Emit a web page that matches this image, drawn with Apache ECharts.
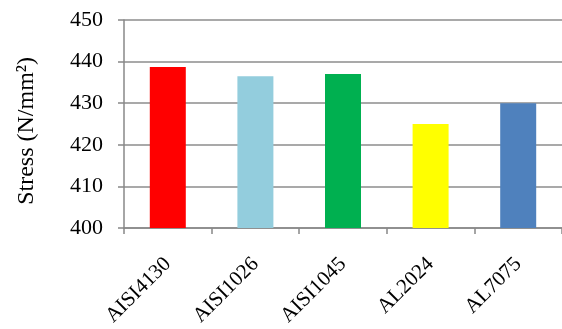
<!DOCTYPE html>
<html>
<head>
<meta charset="utf-8">
<script src="https://cdn.jsdelivr.net/npm/echarts@6/dist/echarts.min.js"></script>
<style>
  html, body { margin: 0; padding: 0; background: #fff; }
  #chart { width: 562px; height: 329px; }
</style>
</head>
<body>
<div id="chart"></div>
<script>
// materials and stress values
var materials = ['AISI4130', 'AISI1026', 'AISI1045', 'AL2024', 'AL7075'];
var stress = [438.7, 436.5, 437.0, 425.0, 430.0];
var barColors = ['#ff0000', '#93cddd', '#00b050', '#ffff00', '#4f81bd'];

var chart = echarts.init(document.getElementById('chart'));
var font = '"Liberation Serif", "Times New Roman", serif';

chart.setOption({
  animation: false,
  grid: { left: 124, right: -4, top: 20, bottom: 101 },
  xAxis: {
    type: 'category',
    data: materials,
    axisLine: { lineStyle: { color: '#888', width: 1.5 } },
    axisTick: { show: true, length: 6, lineStyle: { color: '#888', width: 1.5 } },
    axisLabel: {
      rotate: 45,
      margin: 33,
      color: '#000',
      fontFamily: font,
      fontSize: 21
    }
  },
  yAxis: {
    type: 'value',
    min: 400,
    max: 450,
    interval: 10,
    name: 'Stress (N/mm²)',
    nameLocation: 'middle',
    nameRotate: 90,
    nameGap: 85,
    nameTextStyle: { color: '#000', fontFamily: font, fontSize: 24, padding: [0, 14, 0, 0] },
    axisLine: { show: true, lineStyle: { color: '#888', width: 1.5 } },
    axisTick: { show: true, length: 6, lineStyle: { color: '#888', width: 1.5 } },
    axisLabel: { margin: 21, color: '#000', fontFamily: font, fontSize: 22 },
    splitLine: { lineStyle: { color: '#8c8c8c', width: 1.5 } }
  },
  series: [{
    type: 'bar',
    barWidth: 36,
    data: stress.map(function (v, i) {
      return { value: v, itemStyle: { color: barColors[i] } };
    })
  }]
});
</script>
</body>
</html>
